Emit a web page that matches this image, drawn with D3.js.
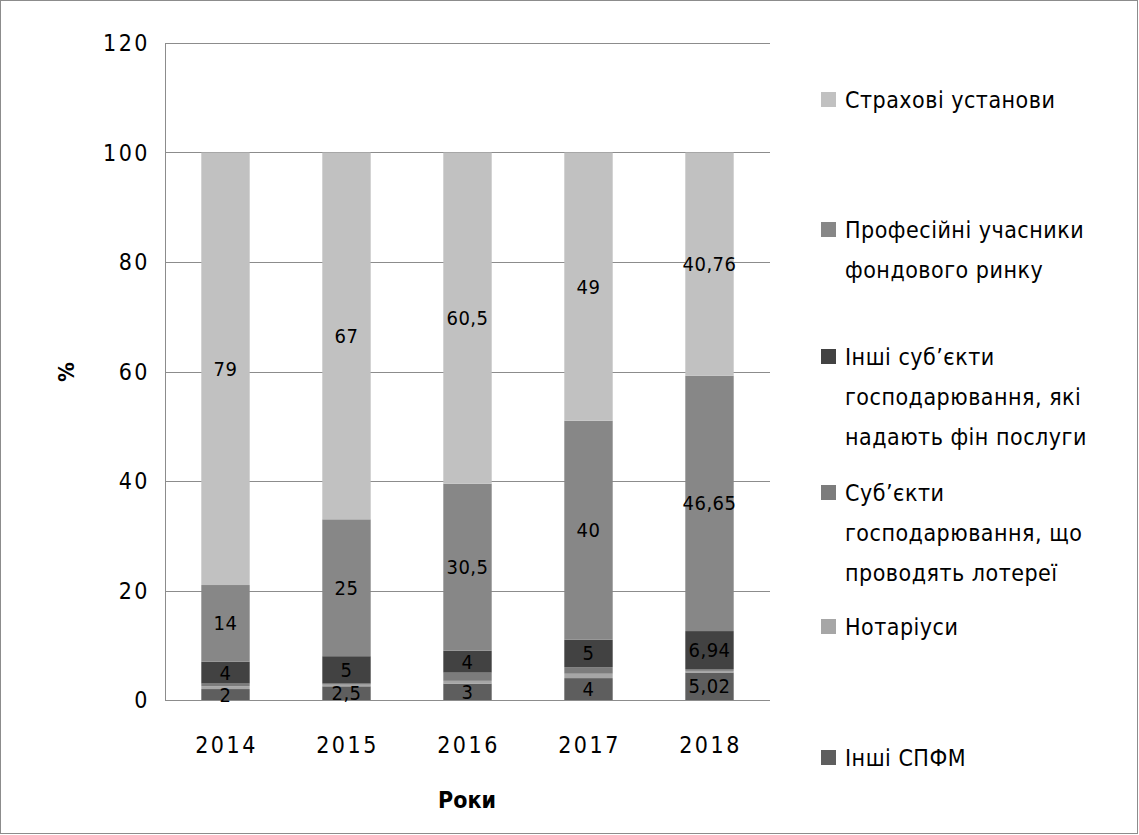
<!DOCTYPE html>
<html>
<head>
<meta charset="utf-8">
<script src="https://cdn.jsdelivr.net/npm/d3@7"></script>
<style>
  body { margin: 0; background: #fff; }
  svg { display: block; font-family: "DejaVu Sans Condensed", "DejaVu Sans", sans-serif; }
</style>
</head>
<body>
<svg id="chart"></svg>
<script>
const w = 1139;
const h = 835;

// data, bottom of the stack first
const years = ['2014', '2015', '2016', '2017', '2018'];
const seriesNames = [
  'Інші СПФМ',
  'Нотаріуси',
  'Суб\u2019єкти господарювання, що проводять лотереї',
  'Інші суб\u2019єкти господарювання, які надають фін послуги',
  'Професійні учасники фондового ринку',
  'Страхові установи'
];
const inshiSpfm = [2, 2.5, 3, 4, 5.02];
const notariusy = [0.5, 0.3, 0.5, 0.8, 0.3];
const loterei = [0.5, 0.2, 1.5, 1.2, 0.33];
const inshiSubiekty = [4, 5, 4, 5, 6.94];
const profUchasnyky = [14, 25, 30.5, 40, 46.65];
const strakhovi = [79, 67, 60.5, 49, 40.76];
const yTicks = [0, 20, 40, 60, 80, 100, 120];

const seriesValues = [inshiSpfm, notariusy, loterei, inshiSubiekty, profUchasnyky, strakhovi];
const colors = ['#5e5e5e', '#a6a6a6', '#7c7c7c', '#424242', '#878787', '#c1c1c1'];
const showLabel = [true, false, false, true, true, true];

// legend, top to bottom, with the line breaks used in the picture
const legendLines = [
  ['Страхові установи'],
  ['Професійні учасники', 'фондового ринку'],
  ['Інші суб\u2019єкти', 'господарювання, які', 'надають фін послуги'],
  ['Суб\u2019єкти', 'господарювання, що', 'проводять лотереї'],
  ['Нотаріуси'],
  ['Інші СПФМ']
];
const legendColorIdx = [5, 4, 3, 2, 1, 0];
const legendY = [100, 230, 357, 493, 627, 758];

const table = years.map((yr, i) => {
  const row = { year: yr };
  seriesNames.forEach((s, j) => { row[s] = seriesValues[j][i]; });
  return row;
});

const svg = d3.select('#chart').attr('width', w).attr('height', h);

svg.append('rect')
  .attr('x', 0.5).attr('y', 0.5)
  .attr('width', w - 2).attr('height', h - 2)
  .attr('fill', '#fff').attr('stroke', '#8c8c8c');

const plotLeft = 165, plotRight = 770, plotTop = 43, plotBottom = 700;

const x = d3.scaleBand().domain(years).range([plotLeft, plotRight]).paddingInner(0.6).paddingOuter(0.3);
const y = d3.scaleLinear().domain([0, 120]).range([plotBottom, plotTop]);

// grid
svg.append('g')
  .selectAll('line')
  .data(yTicks)
  .enter()
  .append('line')
  .attr('x1', plotLeft).attr('x2', plotRight)
  .attr('y1', d => Math.round(y(d)) + 0.5).attr('y2', d => Math.round(y(d)) + 0.5)
  .attr('stroke', '#8c8c8c').attr('stroke-width', 1);

svg.append('line')
  .attr('x1', plotLeft + 0.5).attr('x2', plotLeft + 0.5)
  .attr('y1', plotTop).attr('y2', plotBottom)
  .attr('stroke', '#8c8c8c');

// y tick labels
svg.append('g')
  .selectAll('text')
  .data(yTicks)
  .enter()
  .append('text')
  .attr('x', 150)
  .attr('y', d => y(d))
  .attr('dy', '0.35em')
  .attr('text-anchor', 'end')
  .style('font-size', '23px')
  .style('letter-spacing', '2.5px')
  .text(d => d);

// x tick labels
svg.append('g')
  .selectAll('text')
  .data(years)
  .enter()
  .append('text')
  .attr('x', d => x(d) + x.bandwidth() / 2 + 1)
  .attr('y', 745)
  .attr('dy', '0.35em')
  .attr('text-anchor', 'middle')
  .style('font-size', '23px')
  .style('letter-spacing', '2.5px')
  .text(d => d);

// axis titles
svg.append('text')
  .attr('transform', 'translate(66,372) rotate(-90)')
  .attr('text-anchor', 'middle')
  .attr('dy', '0.35em')
  .style('font-size', '22px')
  .style('font-weight', 'bold')
  .text('%');

svg.append('text')
  .attr('x', 467).attr('y', 800)
  .attr('dy', '0.35em')
  .attr('text-anchor', 'middle')
  .style('font-size', '23px')
  .style('font-weight', 'bold')
  .text('Роки');

// stacked bars
const stack = d3.stack().keys(seriesNames);
const layers = stack(table);

const groups = svg.append('g')
  .selectAll('g')
  .data(layers)
  .enter()
  .append('g')
  .attr('fill', (d, i) => colors[i]);

groups.selectAll('rect')
  .data(d => d)
  .enter()
  .append('rect')
  .attr('x', d => x(d.data.year))
  .attr('y', d => y(d[1]))
  .attr('width', x.bandwidth())
  .attr('height', d => y(d[0]) - y(d[1]));

// value labels
const fmt = v => String(v).replace('.', ',');
layers.forEach((layer, i) => {
  if (!showLabel[i]) return;
  svg.append('g')
    .selectAll('text')
    .data(layer)
    .enter()
    .append('text')
    .attr('x', d => x(d.data.year) + x.bandwidth() / 2)
    .attr('y', d => y((d[0] + d[1]) / 2))
    .attr('dy', '0.35em')
    .attr('text-anchor', 'middle')
    .style('font-size', '20px')
    .style('letter-spacing', '0.5px')
    .text((d, k) => fmt(seriesValues[i][k]));
});

// legend
const legend = svg.append('g');
legendLines.forEach((lines, i) => {
  const ly = legendY[i];
  legend.append('rect')
    .attr('x', 821).attr('y', ly - 8)
    .attr('width', 15).attr('height', 15)
    .attr('fill', colors[legendColorIdx[i]]);
  lines.forEach((t, k) => {
    legend.append('text')
      .attr('x', 845)
      .attr('y', ly + k * 40)
      .attr('dy', '0.35em')
      .style('font-size', '23px')
      .style('letter-spacing', '0.5px')
      .text(t);
  });
});
</script>
</body>
</html>
